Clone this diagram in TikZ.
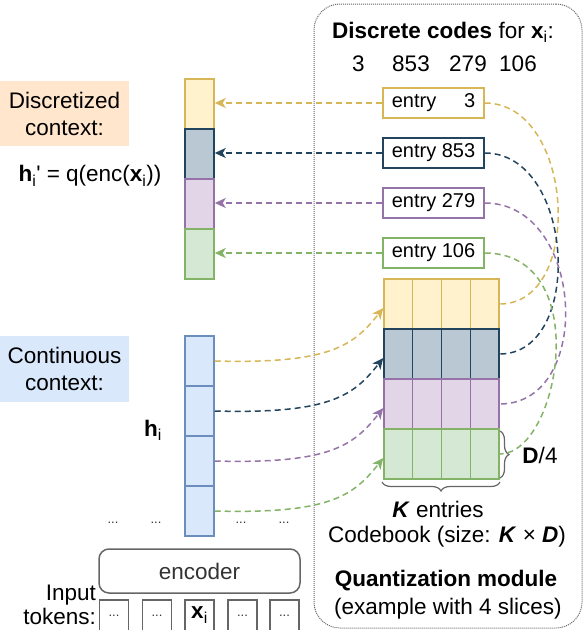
\documentclass[tikz,border=0pt]{standalone}
\usepackage{fontspec}
\setmainfont{Liberation Sans}
\usetikzlibrary{arrows.meta,decorations.pathreplacing,calc}
\definecolor{yfill}{HTML}{FFF2CC}\definecolor{ystroke}{HTML}{D6B656}
\definecolor{bfill}{HTML}{BAC8D3}\definecolor{bstroke}{HTML}{23445D}
\definecolor{pfill}{HTML}{E1D5E7}\definecolor{pstroke}{HTML}{9673A6}
\definecolor{gfill}{HTML}{D5E8D4}\definecolor{gstroke}{HTML}{82B366}
\definecolor{cfill}{HTML}{DAE8FC}\definecolor{cstroke}{HTML}{6C8EBF}
\definecolor{ofill}{HTML}{FFE6CC}
\definecolor{gline}{HTML}{666666}
\definecolor{dtext}{HTML}{333333}
\begin{document}
\begin{tikzpicture}[x=1pt,y=-1pt,
  font=\fontsize{22.5}{27}\selectfont,
  txt/.style={inner sep=0pt, align=center},
  cell/.style={draw, line width=1.5pt, minimum width=29pt, minimum height=50pt, inner sep=0pt},
  row/.style={draw, line width=1.5pt, minimum width=115pt, minimum height=50pt, inner sep=0pt},
  entrybox/.style={draw, fill=white, line width=1.5pt, minimum width=101pt, minimum height=30pt, inner sep=0pt, font=\fontsize{20}{24}\selectfont},
  lbl/.style={inner sep=0pt, minimum width=129pt, minimum height=65pt, align=center},
  tok/.style={draw=gline, line width=1.5pt, minimum width=29pt, minimum height=32pt, inner sep=0pt},
  dots/.style={inner sep=0pt, font=\fontsize{13}{15}\selectfont, text=dtext},
  conn/.style={dash pattern=on 6pt off 4pt, line width=1.5pt},
  arr/.style={-{Stealth[length=11pt,width=10pt,inset=3pt]}},
  brc/.style={draw=gline, line width=1.2pt, decorate, decoration={brace, amplitude=9pt}}
]
\useasboundingbox (0,0) rectangle (586,630);

% quantization module frame
\node[draw=gline, dash pattern=on 1pt off 1pt, line width=1pt, rounded corners=26pt,
      minimum width=268pt, minimum height=624pt, inner sep=0pt] (qm) at (448,316) {};

% header texts
\node[txt] (hdr) at (443,32) {\textbf{Discrete codes} for \textbf{x}\textsubscript{i}:};
\node[txt] (n1) at (358.5,64) {3};
\node[txt] (n2) at (411,64) {853};
\node[txt] (n3) at (468,64) {279};
\node[txt] (n4) at (518,64) {106};

% entry boxes
\node[entrybox, draw=ystroke] (e1) at (433.5,103) {entry \phantom{85}3};
\node[entrybox, draw=bstroke] (e2) at (433.5,153) {entry 853};
\node[entrybox, draw=pstroke] (e3) at (433.5,203) {entry 279};
\node[entrybox, draw=gstroke] (e4) at (433.5,253) {entry 106};

% codebook rows
\node[row, fill=yfill, draw=ystroke] (cb1) at (441.5,304) {};
\node[row, fill=bfill, draw=bstroke] (cb2) at (441.5,354) {};
\node[row, fill=pfill, draw=pstroke] (cb3) at (441.5,404) {};
\node[row, fill=gfill, draw=gstroke] (cb4) at (441.5,454) {};
\foreach \r/\c in {cb1/ystroke,cb2/bstroke,cb3/pstroke,cb4/gstroke}{
  \foreach \f in {0.25,0.5,0.75}{
    \draw[\c, line width=1.5pt] ($(\r.north west)!\f!(\r.north east)$) -- ($(\r.south west)!\f!(\r.south east)$);
  }
}

% braces
\draw[brc] (500,482) -- (382,482);
\draw[brc] (500,431) -- (500,478);
\node[txt] (d4) at (540,455) {\textbf{D}/4};
\node[txt] (kent) at (438,509) {\textbf{\itshape K} entries};
\node[txt] (cbk) at (447,537) {Codebook (size: \textbf{\itshape K} × \textbf{\itshape D})};
\node[txt] (qmt) at (446,581) {\textbf{Quantization module}};
\node[txt] (qme) at (448,609) {(example with 4 slices)};

% left labels
\node[lbl, fill=ofill] (dlab) at (64.5,113.5) {Discretized\\context:};
\node[txt] (hq) at (90,176) {\textbf{h}\textsubscript{i}\textquotesingle{} = q(enc(\textbf{x}\textsubscript{i}))};
\node[lbl, fill=cfill, minimum height=66pt] (clab) at (64.5,369) {Continuous\\context:};
\node[txt] (hi) at (153,430) {\textbf{h}\textsubscript{i}};

% discretized bar
\node[cell, fill=yfill, draw=ystroke] (d1) at (199.5,104) {};
\node[cell, fill=bfill, draw=bstroke] (d2) at (199.5,154) {};
\node[cell, fill=pfill, draw=pstroke] (d3) at (199.5,204) {};
\node[cell, fill=gfill, draw=gstroke] (d4c) at (199.5,254) {};

% continuous bar
\node[cell, fill=cfill, draw=cstroke] (c1) at (199.5,361) {};
\node[cell, fill=cfill, draw=cstroke] (c2) at (199.5,411) {};
\node[cell, fill=cfill, draw=cstroke] (c3) at (199.5,461) {};
\node[cell, fill=cfill, draw=cstroke] (c4) at (199.5,511) {};

% dots
\node[dots] (dt1) at (113,523) {...};
\node[dots] (dt2) at (156,523) {...};
\node[dots] (dt3) at (241,523) {...};
\node[dots] (dt4) at (284,523) {...};

% encoder
\node[draw=gline, line width=1.5pt, rounded corners=10pt, minimum width=201pt, minimum height=44pt,
      inner sep=0pt, text=dtext] (enc) at (199.5,571) {encoder};

% input tokens
\node[inner sep=0pt, align=right, anchor=north east, font=\fontsize{22.5}{24}\selectfont] (inp) at (96,585) {Input\\tokens:};
\node[tok] (t1) at (114,616) {};
\node[dots] at (t1) {...};
\node[tok] (t2) at (157,616) {};
\node[dots] at (t2) {...};
\node[tok] (t3) at (199.5,616) {};
\node[txt] at (199.5,615) {\textbf{x}\textsubscript{i}};
\node[tok] (t4) at (242.5,616) {};
\node[dots] at (t4) {...};
\node[tok] (t5) at (284.5,616) {};
\node[dots] at (t5) {...};

% entry -> discretized bar
\draw[conn, ystroke, arr] (e1.west) -- (e1.west -| d1.east);
\draw[conn, bstroke, arr] (e2.west) -- (e2.west -| d2.east);
\draw[conn, pstroke, arr] (e3.west) -- (e3.west -| d3.east);
\draw[conn, gstroke, arr] (e4.west) -- (e4.west -| d4c.east);

% codebook rows -> entries
\draw[conn, ystroke] (e1.east) .. controls +(90,0) and +(85,0) .. (cb1.east);
\draw[conn, bstroke] (e2.east) .. controls +(90,0) and +(85,0) .. (cb2.east);
\draw[conn, pstroke] (e3.east) .. controls +(100,0) and +(95,0) .. (cb3.east);
\draw[conn, gstroke] (e4.east) .. controls +(110,0) and +(60,0) .. (cb4.east);

% continuous -> codebook
\draw[conn, ystroke, arr] (c1.east) .. controls +(115,3) and +(-30,38) .. ([yshift=-4pt]cb1.west);
\draw[conn, bstroke, arr] (c2.east) .. controls +(115,3) and +(-30,38) .. ([yshift=-4pt]cb2.west);
\draw[conn, pstroke, arr] (c3.east) .. controls +(115,3) and +(-30,38) .. ([yshift=-4pt]cb3.west);
\draw[conn, gstroke, arr] (c4.east) .. controls +(115,3) and +(-30,38) .. ([yshift=-4pt]cb4.west);
\end{tikzpicture}
\end{document}
